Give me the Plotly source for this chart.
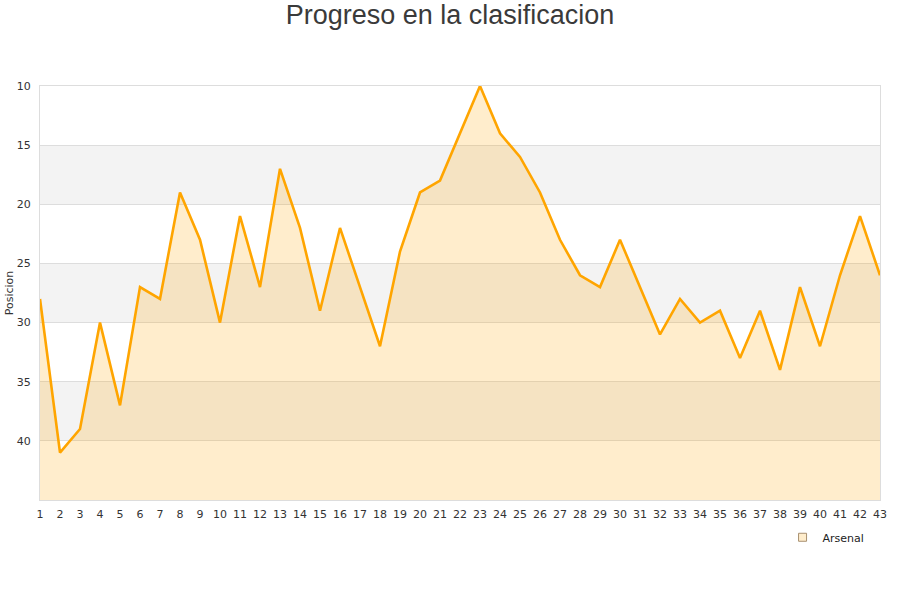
import plotly.graph_objects as go

jornadas = list(range(1, 44))
posicion = [28, 41, 39, 30, 37, 27, 28, 19, 23, 30,
            21, 27, 17, 22, 29, 22, 27, 32, 24, 19,
            18, 14, 10, 14, 16, 19, 23, 26, 27, 23,
            27, 31, 28, 30, 29, 33, 29, 34, 27, 32,
            26, 21, 26]
team = "Arsenal"
y_ticks = [10, 15, 20, 25, 30, 35, 40]
bands = [(15, 20), (25, 30), (35, 40)]
y_bottom = 45

fig = go.Figure()

fig.add_trace(go.Scatter(
    x=jornadas, y=[y_bottom] * len(jornadas), mode="lines",
    line=dict(width=0, color="rgba(0,0,0,0)"), showlegend=False, hoverinfo="skip"))
fig.add_trace(go.Scatter(
    x=jornadas, y=posicion, mode="lines", fill="tonexty",
    fillcolor="rgba(255,165,0,0.2)", line=dict(color="#FFA500", width=2.6),
    name=team, showlegend=False))
fig.add_trace(go.Scatter(
    x=[None], y=[None], mode="markers", name=team,
    marker=dict(symbol="square", size=8, color="#FFEDCC",
                line=dict(color="#A89070", width=1))))

for lo, hi in bands:
    fig.add_shape(type="rect", xref="paper", yref="y", x0=0, x1=1, y0=lo, y1=hi,
                  fillcolor="#F3F3F3", line=dict(width=0), layer="below")

fig.update_layout(
    width=900, height=600,
    margin=dict(l=40, r=20, t=86, b=100, autoexpand=False),
    paper_bgcolor="white", plot_bgcolor="white",
    title=dict(text="Progreso en la clasificacion", x=0.5, xanchor="center",
               y=0.975, yanchor="middle",
               font=dict(family="Liberation Sans, Arial", size=27, color="#3a3a3a")),
    font=dict(family="DejaVu Sans", size=11, color="#333333"),
    showlegend=True,
    legend=dict(x=0.884, y=-0.055, xanchor="left", yanchor="top",
                font=dict(size=11, color="#222222"), bgcolor="rgba(0,0,0,0)",
                itemwidth=30),
)

fig.update_xaxes(range=[1, 43], tickmode="array", tickvals=jornadas,
                 ticktext=[str(j) for j in jornadas], showgrid=False, zeroline=False,
                 showline=True, linecolor="#DDDDDD", mirror=True, ticks="",
                 ticklabelstandoff=4,
                 automargin=False, tickfont=dict(size=11, color="#333333"))
fig.update_yaxes(range=[y_bottom, 10], tickmode="array", tickvals=y_ticks,
                 showgrid=True, gridcolor="#DDDDDD", zeroline=False,
                 showline=True, linecolor="#DDDDDD", mirror=True, ticks="",
                 ticklabelstandoff=6,
                 automargin=False,
                 title=dict(text="Posicion", font=dict(size=11, color="#333333"), standoff=0),
                 tickfont=dict(size=11, color="#333333"))

fig.write_html("out.html", config={"displayModeBar": False},
               post_script="document.body.style.margin='0';")
